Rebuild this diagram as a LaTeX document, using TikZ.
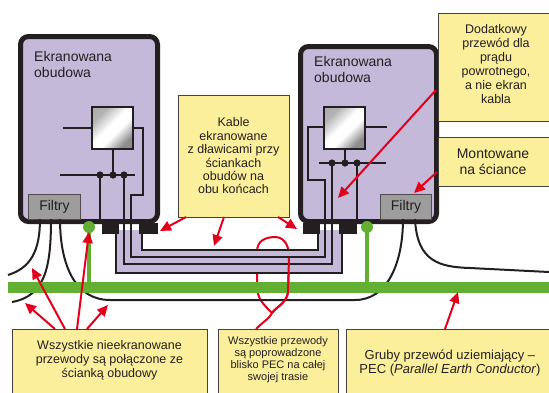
\documentclass[tikz,border=0pt]{standalone}
\usepackage{fontspec}
\setmainfont{Liberation Sans}
\usetikzlibrary{arrows.meta}

\definecolor{encl}{RGB}{197,185,218}
\definecolor{note}{RGB}{252,239,155}
\definecolor{filt}{RGB}{157,157,157}
\definecolor{pecgreen}{RGB}{98,176,50}
\definecolor{arrowred}{RGB}{226,0,26}
\definecolor{ink}{RGB}{35,31,32}

% metaliczny polysk ukladu
\pgfdeclarehorizontalshading{chipshade}{100bp}{color(0bp)=(gray!70); color(28bp)=(gray!60);
  color(46bp)=(white); color(57bp)=(white); color(74bp)=(gray!90); color(100bp)=(gray!90)}

\tikzset{
  casing/.style={fill=encl, draw=ink, line width=5pt, rounded corners=8pt},
  caselabel/.style={anchor=north west, align=left, inner sep=0pt, text=ink, font=\fontsize{14}{16}\selectfont},
  filterbox/.style={fill=filt, draw=ink!80, line width=1pt},
  filtertext/.style={inner sep=0pt, text=ink, font=\fontsize{14}{16}\selectfont},
  chip/.style={draw=ink, line width=1.2pt, shading=chipshade, shading angle=-45},
  wire/.style={draw=ink, line width=1.3pt},
  bundle/.style={draw=ink, line width=1.7pt},
  cable/.style={draw=ink, line width=2pt},
  notebox/.style={fill=note, draw=ink!85, line width=1pt},
  notetext/.style={align=center, inner sep=0pt, text=ink, font=\fontsize{12.5}{14}\selectfont},
  pointer/.style={draw=arrowred, line width=2pt, -{Triangle[length=11pt,width=10pt]}},
  loopline/.style={draw=arrowred, line width=2pt},
}

\begin{document}
\begin{tikzpicture}[x=1pt,y=-1pt]
\useasboundingbox (0,0) rectangle (549,392);

% obudowy
\draw[casing] (20.5,36.5) rectangle (157.5,221.5);
\draw[casing] (300.5,46.5) rectangle (436.5,221.5);
\node[caselabel] (obudowa1) at (34,51) {Ekranowana\\obudowa};
\node[caselabel] (obudowa2) at (314,56) {Ekranowana\\obudowa};

% filtry
\draw[filterbox] (28,194) rectangle (80,219);
\node[filtertext] (filtry1) at (54.5,207) {Filtry};
\draw[filterbox] (380,194) rectangle (431,219);
\node[filtertext] (filtry2) at (406,207) {Filtry};

% uklady i magistrale
\shade[chip] (92,107) rectangle (133,149);
\shade[chip] (324,107) rectangle (365,149);
\draw[wire] (63,128) -- (92,128);
\draw[wire] (113,149) -- (113,175);
\draw[wire] (60,175) -- (135,175);
\draw[wire] (100,175) -- (100,221);
\draw[wire] (365,127) -- (387,127);
\draw[wire] (345,149) -- (345,163);
\draw[wire] (319,163) -- (386,163);
\draw[wire] (357,163) -- (357,221);
\foreach \x in {100,113,124} \fill[ink] (\x,175) circle (3.6);
\foreach \x in {332,345,357} \fill[ink] (\x,163) circle (3.6);

% petla
\draw[loopline] (256,329) .. controls (264,321) and (270,318) .. (272,313)
  .. controls (262,303) and (257,298) .. (257,285) -- (257,252)
  .. controls (257,240) and (266,237) .. (276,237)
  .. controls (286,238) and (290,248) .. (289,262) -- (288,292)
  .. controls (287,303) and (276,307) .. (272,313);

% kabel ekranowany
\fill[encl] (116,230) -- (116,273) -- (342,273) -- (342,230) -- (318,230)
  -- (318,250) -- (142,250) -- (142,230) -- cycle;
\draw[wire] (133,128) -- (143,128) -- (143,195) -- (131,195) -- (131,257)
  -- (325,257) -- (325,180) -- (308,180) -- (308,127) -- (324,127);
\draw[wire] (124,175) -- (124,264) -- (332,264) -- (332,163);
\draw[bundle] (116,230) -- (116,273) -- (342,273) -- (342,230);
\draw[bundle] (142,230) -- (142,250) -- (318,250) -- (318,230);
\fill[ink] (102,223) rectangle (119,234);
\fill[ink] (139,223) rectangle (158,234);
\fill[ink] (303,223) rectangle (320,234);
\fill[ink] (339,223) rectangle (357,234);

% przewody nieekranowane
\draw[cable] (40,219) .. controls (40,252) and (30,268) .. (8,275);
\draw[cable] (51,219) .. controls (51,268) and (45,296) .. (12,302);
\draw[cable] (60,219) .. controls (60,265) and (75,300) .. (110,300) -- (355,300)
  .. controls (388,300) and (403,262) .. (403,219);
\draw[cable] (415,219) .. controls (417,262) and (440,267) .. (470,268) -- (549,272);

% PEC
\draw[pecgreen, line width=4pt] (89,227) -- (89,287);
\fill[pecgreen] (89,227) circle (6);
\draw[pecgreen, line width=4pt] (367,227) -- (367,287);
\fill[pecgreen] (367,227) circle (6);
\draw[pecgreen, line width=11pt] (8,287) -- (549,287);
\draw[loopline] (289,258) -- (288,292) .. controls (287,303) and (276,307) .. (272,313);

% opisy
\draw[notebox] (178,95) rectangle (289,217);
\node[notetext, font=\fontsize{12.5}{13.4}\selectfont] (kable) at (233.5,156)
  {Kable\\ekranowane\\z dławicami przy\\ściankach\\obudów na\\obu końcach};
\draw[notebox] (438,13) rectangle (556,121);
\node[notetext] (dodatkowy) at (496,64)
  {Dodatkowy\\przewód dla\\prądu\\powrotnego,\\a nie ekran\\kabla};
\draw[notebox] (438,137) rectangle (556,186);
\node[notetext, font=\fontsize{14}{16}\selectfont] (montowane) at (493,162) {Montowane\\na ściance};
\draw[notebox] (12,329) rectangle (207,400);
\node[notetext] (nieekran) at (109.5,360)
  {Wszystkie nieekranowane\\przewody są połączone ze\\ścianką obudowy};
\draw[notebox] (218,329) rectangle (338,400);
\node[notetext, font=\fontsize{11}{12}\selectfont] (trasa) at (278,360)
  {Wszystkie przewody\\są poprowadzone\\blisko PEC na całej\\swojej trasie};
\draw[notebox] (346,329) rectangle (556,400);
\node[notetext, font=\fontsize{13}{14.5}\selectfont] (gruby) at (450,363)
  {Gruby przewód uziemiający –\\PEC (\textit{Parallel Earth Conductor})};

% strzalki
\coordinate (dlawica1) at (160,231);
\coordinate (kabel) at (214,246);
\coordinate (dlawica2) at (297,229);
\coordinate (przewod) at (338,198);
\coordinate (filtr) at (414,193);
\coordinate (kabelA) at (25,303);
\coordinate (kabelB) at (32,268);
\coordinate (kulka) at (89,232);
\coordinate (kabelC) at (108,305);
\coordinate (szyna) at (458,292);
\draw[pointer] (186,217) -- (dlawica1);
\draw[pointer] (224,217) -- (kabel);
\draw[pointer] (278,217) -- (dlawica2);
\draw[pointer] (436,90) -- (przewod);
\draw[pointer] (437,172) -- (filtr);
\draw[pointer] (55,329) -- (kabelA);
\draw[pointer] (65,329) -- (kabelB);
\draw[pointer] (77,329) -- (kulka);
\draw[pointer] (87,329) -- (kabelC);
\draw[pointer] (445,329) -- (szyna);
\end{tikzpicture}
\end{document}
